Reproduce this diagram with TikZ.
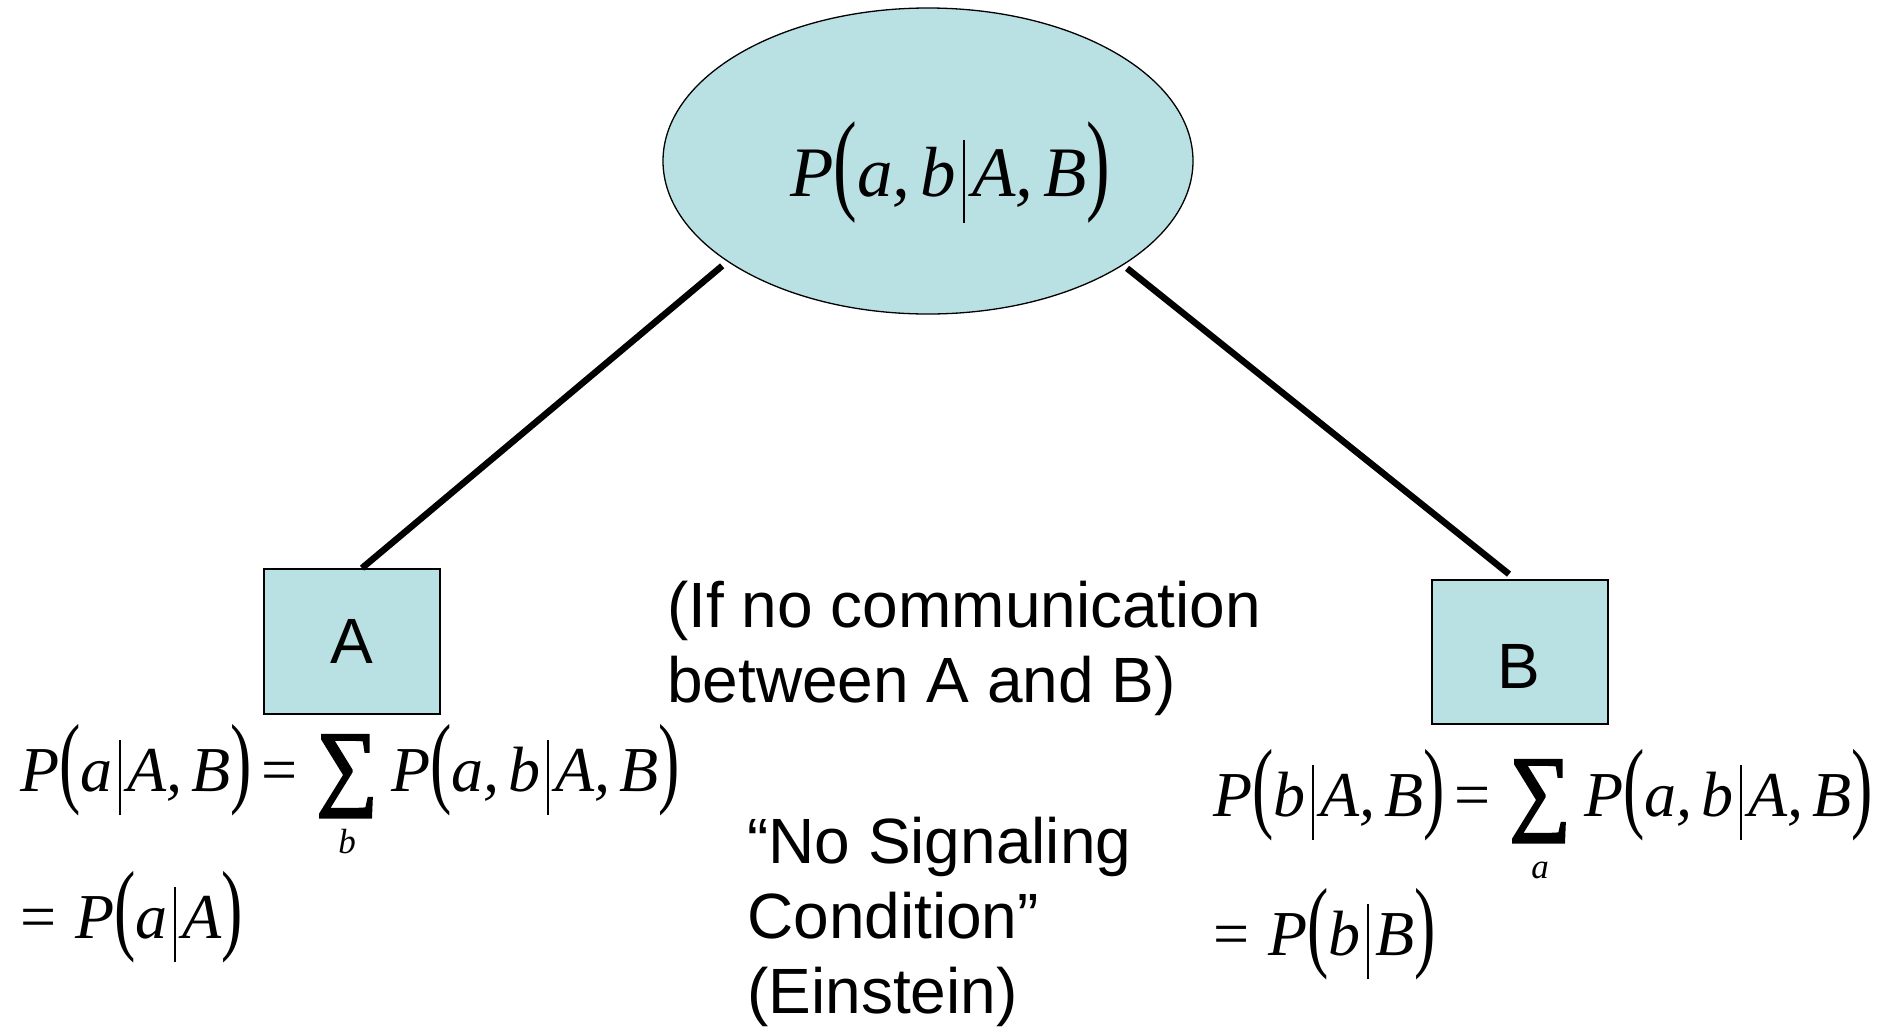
\documentclass[tikz,border=0pt]{standalone}
\usepackage{fontspec}
\usepackage{graphicx}
\usetikzlibrary{shapes.geometric}
\setmainfont{Liberation Serif}
\newfontfamily\sansface{Liberation Sans}
\newfontfamily\sumface{Liberation Serif}[FakeBold=3]
\definecolor{paleblue}{RGB}{185,224,227}

% stretched delimiters, conditioning bar and summation for the formulas
\newcommand\lpar{{\upshape\raisebox{-0.05em}{\scalebox{1}[1.58]{(}}}}
\newcommand\rpar{{\upshape\raisebox{-0.05em}{\scalebox{1}[1.58]{)}}}}
\newcommand\cbar{\kern0.1em\rule[-0.375em]{0.03em}{1.17em}\kern0.1em}
\newcommand\csep{,\kern0.14em}
\newcommand\eqsign{\kern0.15em{\upshape=}\kern0.3em}
\newcommand\msum[1]{\rlap{\makebox[0.95em]{\raisebox{-0.97em}{\fontsize{35}{35}\selectfont #1}}}%
  \raisebox{-0.41em}{\resizebox{0.95em}{1.28em}{\raisebox{\depth}{\sumface\upshape ∑}}}\kern0.22em}

\tikzset{
  pbox/.style={draw, line width=1.8pt, fill=paleblue, minimum width=176pt,
    minimum height=145pt, inner sep=0pt, font={\sansface\fontsize{64}{64}\selectfont}},
  link/.style={line width=6.5pt},
  formula/.style={inner sep=0pt, anchor=base west, font={\fontsize{64}{64}\selectfont\itshape}},
  note/.style={inner sep=0pt, align=left, anchor=base west,
    font={\sansface\fontsize{64}{75}\selectfont}}
}

\begin{document}
\begin{tikzpicture}[x=1pt,y=-1pt]
\fill[white] (0,0) rectangle (1895,1029);
\useasboundingbox (0,0) rectangle (1895,1029);

% joint distribution
\node[ellipse, draw, line width=1.3pt, fill=paleblue, minimum width=530pt,
      minimum height=306pt, inner sep=0pt] (joint) at (928,161) {};
\node[formula, font={\fontsize{71}{71}\selectfont\itshape}] (jointlbl) at (790,196)
  {P\lpar a\csep b\cbar A\csep B\rpar};

% the two parties
\node[pbox] (A) at (352,641.5) {A};
\node[pbox, minimum height=144pt] (B) at (1520,652) {};
\node[inner sep=0pt, font={\sansface\fontsize{64}{64}\selectfont}] (Blbl) at (1519,666) {B};

% links
\draw[link] ([xshift=-6.5pt,yshift=-3.3pt]joint.207.6) -- ([xshift=10pt]A.north);
\draw[link] ([xshift=3.5pt,yshift=-3.3pt]joint.332.4) -- ([xshift=-11pt,yshift=5pt]B.north);

% marginals
\node[formula] (margA) at (20,791)
  {P\lpar a\cbar A\csep B\rpar\eqsign\msum{b}P\lpar a\csep b\cbar A\csep B\rpar};
\node[formula] (margAr) at (20,938) {{\upshape=}\kern0.3em P\lpar a\cbar A\rpar};

\node[formula] (margB) at (1213,816)
  {P\lpar b\cbar A\csep B\rpar\eqsign\msum{a}P\lpar a\csep b\cbar A\csep B\rpar};
\node[formula] (margBr) at (1213,955) {{\upshape=}\kern0.3em P\lpar b\cbar B\rpar};

% remarks (anchored at the baseline of their last line)
\node[note] (nocomm) at (667,702) {(If no communication\\between A and B)};
\node[note] (nosig) at (747,1013) {“No Signaling\\Condition”\\(Einstein)};
\end{tikzpicture}
\end{document}
